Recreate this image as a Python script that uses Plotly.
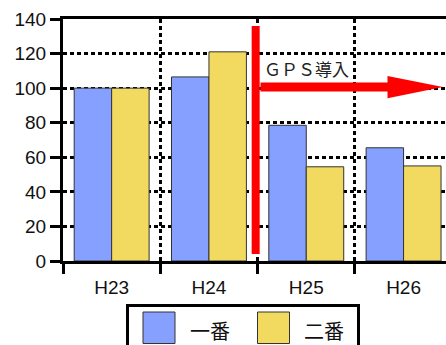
import plotly.graph_objects as go

# --- data -------------------------------------------------------------
categories = ["H23", "H24", "H25", "H26"]
series_names = ["一番", "二番"]
ichiban = [100, 106.5, 78.5, 65.5]
niban = [100, 121, 54.5, 55]
y_ticks = [0, 20, 40, 60, 80, 100, 120, 140]

# GPS introduction marker (between H24 and H25)
gps_label = "ＧＰＳ導入"
gps_x = 1.48
gps_line_y = [4, 136]
arrow_x = [1.53, 2.835, 3.405]
arrow_y = 100.6
arrow_half = 6.4

# --- style --------------------------------------------------------------
W, H = 446, 345
M_L, M_R, M_T, M_B = 63, 0, 19, 84
BLUE = "#86A0FF"
YELLOW = "#F2DA60"
EDGE = "#333333"
RED = "#FF0000"
TXT = "#111111"
LATIN = "Liberation Sans, Arial, sans-serif"
CJK = "Noto Sans CJK JP, sans-serif"
X_RANGE = [-0.5, 3.436]
Y_RANGE = [0, 140]

plot_w = W - M_L - M_R
plot_h = H - M_T - M_B


def px_x(px):
    return (px - M_L) / plot_w


def px_y(py):
    return (H - M_B - py) / plot_h


fig = go.Figure()
for name, vals, col in [(series_names[0], ichiban, BLUE), (series_names[1], niban, YELLOW)]:
    fig.add_trace(go.Bar(
        x=categories, y=vals, name=name,
        marker=dict(color=col, line=dict(color=EDGE, width=1)),
        showlegend=False,
    ))

grid_dash = "4px,3px"
fig.update_layout(
    width=W, height=H,
    margin=dict(l=M_L, r=M_R, t=M_T, b=M_B, pad=0),
    paper_bgcolor="white", plot_bgcolor="white",
    barmode="group", bargap=0.23, bargroupgap=0,
    font=dict(family=LATIN, color=TXT, size=19),
    xaxis=dict(
        type="category", range=X_RANGE, tickson="boundaries",
        ticks="outside", ticklen=10, tickwidth=3, tickcolor="black",
        showline=True, linewidth=3, linecolor="black", mirror=True,
        showgrid=True, gridcolor="black", gridwidth=3, griddash=grid_dash,
        tickfont=dict(size=19, family=LATIN, color=TXT),
        ticklabelstandoff=7,
    ),
    yaxis=dict(
        range=Y_RANGE, tickvals=y_ticks,
        ticks="outside", ticklen=10, tickwidth=3, tickcolor="black",
        showline=True, linewidth=3, linecolor="black",
        showgrid=True, gridcolor="black", gridwidth=3, griddash=grid_dash,
        zeroline=False,
        tickfont=dict(size=19, family=LATIN, color=TXT),
    ),
    # inner halves of the crossing tick marks
    xaxis2=dict(
        overlaying="x", anchor="y", range=X_RANGE,
        tickvals=[0.5, 1.5, 2.5], ticks="inside", ticklen=10, tickwidth=3,
        tickcolor="black", showticklabels=False, showgrid=False,
        showline=False, zeroline=False,
    ),
    yaxis2=dict(
        overlaying="y", anchor="x", range=Y_RANGE, tickvals=y_ticks[1:-1],
        ticks="inside", ticklen=11, tickwidth=3, tickcolor="black",
        showticklabels=False, showgrid=False, showline=False, zeroline=False,
        side="left",
    ),
)

# GPS marker: vertical bar, arrow shaft and arrow head
fig.add_shape(type="line", xref="x", yref="y",
              x0=gps_x, x1=gps_x, y0=gps_line_y[0], y1=gps_line_y[1],
              line=dict(color=RED, width=8))
fig.add_shape(type="line", xref="x", yref="y",
              x0=arrow_x[0], x1=arrow_x[1] + 0.05, y0=arrow_y, y1=arrow_y,
              line=dict(color=RED, width=9))
fig.add_shape(type="path", xref="x", yref="y",
              path=(f"M {arrow_x[1]} {arrow_y + arrow_half} "
                    f"L {arrow_x[2]} {arrow_y} "
                    f"L {arrow_x[1]} {arrow_y - arrow_half} Z"),
              fillcolor=RED, line=dict(color=RED, width=0))
fig.add_annotation(xref="x", yref="y", x=arrow_x[0] + 0.02, y=111.5,
                   text=gps_label, showarrow=False, xanchor="left",
                   yanchor="middle",
                   font=dict(family=CJK, size=17, color="#222222"))

# legend box drawn below the axis
fig.add_shape(type="rect", xref="paper", yref="paper",
              x0=px_x(127.5), x1=px_x(358.5), y0=px_y(355), y1=px_y(305.5),
              line=dict(color="black", width=3), fillcolor="white")
for (sx, tx), name, col in zip([(143, 188), (257.5, 302)], series_names, [BLUE, YELLOW]):
    fig.add_shape(type="rect", xref="paper", yref="paper",
                  x0=px_x(sx), x1=px_x(sx + 32), y0=px_y(343.5), y1=px_y(312),
                  line=dict(color=EDGE, width=1), fillcolor=col)
    fig.add_annotation(xref="paper", yref="paper", x=px_x(tx), y=px_y(330.5),
                       text=name, showarrow=False, xanchor="left",
                       yanchor="middle",
                       font=dict(family=CJK, size=20, color=TXT))

fig.write_html("out.html")
